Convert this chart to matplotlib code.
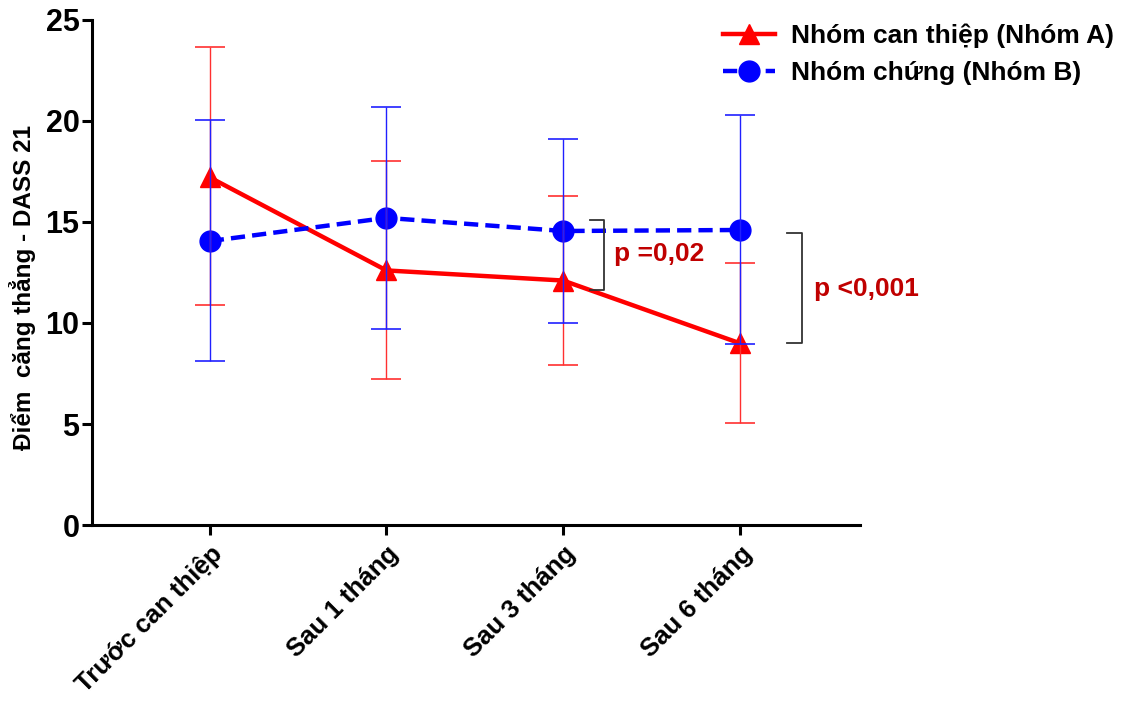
import matplotlib.pyplot as plt

plt.rcParams['font.family'] = ['Liberation Sans', 'DejaVu Sans']
plt.rcParams['font.weight'] = 'bold'

# Stress scores (DASS 21) at each time point
labels = ['Trước can thiệp', 'Sau 1 tháng', 'Sau 3 tháng', 'Sau 6 tháng']
a_mean = [17.2, 12.6, 12.1, 9.0]
a_upper = [23.65, 18.0, 16.3, 12.95]
a_lower = [10.9, 7.25, 7.9, 5.05]
b_mean = [14.05, 15.2, 14.55, 14.6]
b_upper = [20.05, 20.7, 19.1, 20.3]
b_lower = [8.1, 9.7, 10.0, 8.95]

x = list(range(len(labels)))

fig = plt.figure(figsize=(11.31, 7.04), dpi=100)
ax = fig.add_axes([0.0813, 0.254, 0.679, 0.718])

# lines with markers
la, = ax.plot(x, a_mean, color='#ff0000', lw=3.2, marker='^', ms=15,
              label='Nhóm can thiệp (Nhóm A)', zorder=2)
lb, = ax.plot(x, b_mean, color='#0000ff', lw=3.2, ls=(0, (3.2, 1.6)), marker='o', ms=15,
              label='Nhóm chứng (Nhóm B)', zorder=2)

# error bars
a_err = [[m - lo for m, lo in zip(a_mean, a_lower)], [hi - m for m, hi in zip(a_mean, a_upper)]]
b_err = [[m - lo for m, lo in zip(b_mean, b_lower)], [hi - m for m, hi in zip(b_mean, b_upper)]]
ax.errorbar(x, a_mean, yerr=a_err, fmt='none', ecolor='#ff3030', elinewidth=1.0,
            capsize=11, capthick=1.2, zorder=3)
ax.errorbar(x, b_mean, yerr=b_err, fmt='none', ecolor='#2020ff', elinewidth=1.0,
            capsize=11, capthick=1.2, zorder=4)

# significance brackets
def bracket(x0, x1, y0, y1):
    ax.plot([x0, x1, x1, x0], [y1, y1, y0, y0], color='#333333', lw=1.3,
            clip_on=False, zorder=5)

bracket(2.155, 2.23, 11.65, 15.1)
ax.text(2.29, 13.4, 'p =0,02', color='#c00000', fontsize=19, fontweight='bold',
        va='center', ha='left')
bracket(3.27, 3.35, 9.0, 14.45)
ax.text(3.42, 11.7, 'p <0,001', color='#c00000', fontsize=19, fontweight='bold',
        va='center', ha='left', clip_on=False)

ax.set_xlim(-0.667, 3.68)
ax.set_ylim(0, 25)
ax.set_yticks([0, 5, 10, 15, 20, 25])
ax.set_xticks(x)
ax.set_xticklabels(labels, rotation=45, ha='right', rotation_mode='anchor',
                   fontsize=18.5, fontweight='bold')
ax.tick_params(axis='y', labelsize=22, width=2.2, length=7, pad=2)
ax.tick_params(axis='x', width=2.2, length=7, pad=5)
ax.set_ylabel('Điểm  căng thẳng - DASS 21', fontsize=17.5, fontweight='bold')
ax.yaxis.set_label_coords(-0.073, 0.47)

for s in ['top', 'right']:
    ax.spines[s].set_visible(False)
for s in ['left', 'bottom']:
    ax.spines[s].set_linewidth(2.2)

fig.legend(handles=[la, lb], loc='upper left', bbox_to_anchor=(0.618, 1.0),
           frameon=False, fontsize=19, handlelength=2.0, handletextpad=0.6,
           labelspacing=0.5)

fig.savefig('out.png', dpi=100)
